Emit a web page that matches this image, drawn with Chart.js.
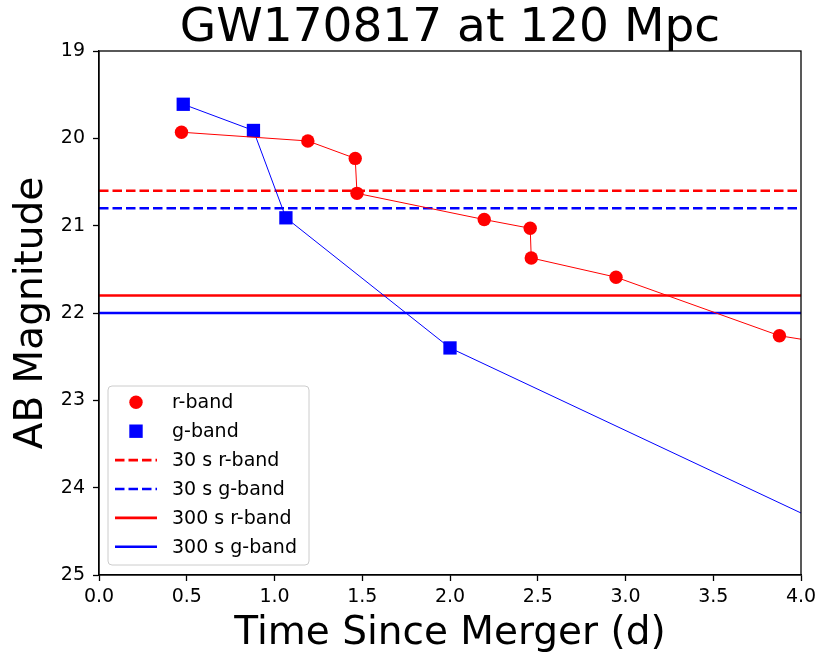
<!DOCTYPE html>
<html><head><meta charset="utf-8">
<script src="https://cdn.jsdelivr.net/npm/chart.js@4"></script>
<style>html,body{margin:0;padding:0;background:#fff;}#wrap{width:817px;height:655px;}</style>
</head><body><div id="wrap"><canvas id="c" width="817" height="655"></canvas></div>
<script>
const chartTitle = 'GW170817 at 120 Mpc';
const xAxisLabel = 'Time Since Merger (d)';
const yAxisLabel = 'AB Magnitude';

const rTime = [0.47, 1.19, 1.46, 1.47, 2.195, 2.457, 2.463, 2.946, 3.877, 4.0];
const rMag  = [19.93, 20.03, 20.23, 20.63, 20.93, 21.03, 21.37, 21.59, 22.26, 22.30];
const gTime = [0.48, 0.88, 1.065, 2.0, 4.0];
const gMag  = [19.61, 19.91, 20.91, 22.40, 24.29];

const limitLabels = ['30 s r-band', '30 s g-band', '300 s r-band', '300 s g-band'];
const limitMags   = [20.6, 20.8, 21.8, 22.0];
const limitSpan   = [0, 4];

const xTicks = [0, 0.5, 1.0, 1.5, 2.0, 2.5, 3.0, 3.5, 4.0];
const yTicks = [19, 20, 21, 22, 23, 24, 25];

const RED = '#ff0000', BLUE = '#0000ff';
const FONT = "'DejaVu Sans', sans-serif";

function pts(xs, ys) { return xs.map((x, i) => ({x: x, y: ys[i]})); }
function radii(n, r) { return Array.from({length: n}, (_, i) => i === n - 1 ? 0 : r); }

const datasets = [
  {label: 'r-band', data: pts(rTime, rMag), showLine: true, borderColor: RED, borderWidth: 1,
   backgroundColor: RED, pointStyle: 'circle', pointRadius: radii(rTime.length, 6.7), pointBorderWidth: 0,
   pointHoverRadius: 0, marker: true},
  {label: 'g-band', data: pts(gTime, gMag), showLine: true, borderColor: BLUE, borderWidth: 1,
   backgroundColor: BLUE, pointStyle: 'rect', pointRadius: radii(gTime.length, 9.4), pointBorderWidth: 0,
   pointHoverRadius: 0, marker: true}
];
const limitColors = [RED, BLUE, RED, BLUE];
const limitDash = [[9.5, 4], [9.5, 4], [], []];
limitLabels.forEach((lab, i) => {
  datasets.push({label: lab, data: limitSpan.map(x => ({x: x, y: limitMags[i]})), showLine: true,
    borderColor: limitColors[i], backgroundColor: limitColors[i], borderWidth: 2.6, borderDash: limitDash[i],
    pointRadius: 0, pointHoverRadius: 0, marker: false});
});

const decor = {
  id: 'decor',
  afterDraw(chart) {
    const ctx = chart.ctx, a = chart.chartArea;
    ctx.save();
    // frame
    ctx.strokeStyle = '#000'; ctx.lineWidth = 1.3; ctx.setLineDash([]);
    ctx.strokeRect(a.left, a.top, a.right - a.left, a.bottom - a.top);
    // title
    ctx.fillStyle = '#000';
    ctx.font = '47px ' + FONT;
    ctx.textAlign = 'center'; ctx.textBaseline = 'alphabetic';
    ctx.fillText(chartTitle, (a.left + a.right) / 2, 41);
    // legend
    const bx = a.left + 9, by = a.bottom - 189, bw = 201, bh = 179;
    ctx.beginPath();
    ctx.roundRect(bx, by, bw, bh, 4);
    ctx.fillStyle = 'rgba(255,255,255,0.8)'; ctx.fill();
    ctx.strokeStyle = '#cccccc'; ctx.lineWidth = 1; ctx.stroke();
    ctx.font = '19px ' + FONT; ctx.textAlign = 'left'; ctx.textBaseline = 'middle';
    chart.data.datasets.forEach((ds, i) => {
      const cy = by + 16.3 + i * 28.9;
      const hx = bx + 28;
      if (ds.marker) {
        ctx.fillStyle = ds.backgroundColor;
        ctx.beginPath();
        if (ds.pointStyle === 'circle') { ctx.arc(hx, cy, 6.7, 0, Math.PI * 2); }
        else { ctx.rect(hx - 6.7, cy - 6.7, 13.4, 13.4); }
        ctx.fill();
      } else {
        ctx.strokeStyle = ds.borderColor; ctx.lineWidth = ds.borderWidth;
        ctx.setLineDash(ds.borderDash); ctx.beginPath();
        ctx.moveTo(bx + 7, cy); ctx.lineTo(bx + 49, cy); ctx.stroke(); ctx.setLineDash([]);
      }
      ctx.fillStyle = '#000';
      ctx.fillText(ds.label, bx + 64, cy + 1);
    });
    ctx.restore();
  }
};

new Chart(document.getElementById('c'), {
  type: 'scatter',
  data: {datasets: datasets},
  options: {
    responsive: false, animation: false, devicePixelRatio: 1,
    layout: {padding: {top: 51, right: 16, bottom: 0, left: 0}},
    plugins: {legend: {display: false}, title: {display: false}, tooltip: {enabled: false}},
    scales: {
      x: {
        type: 'linear', min: 0, max: 4,
        afterBuildTicks: s => { s.ticks = xTicks.map(v => ({value: v})); },
        afterFit: s => { s.height = 80; s.paddingLeft = 0; s.paddingRight = 0; },
        ticks: {color: '#000', font: {family: FONT, size: 19}, padding: 5, maxRotation: 0,
                callback: v => Number(v).toFixed(1)},
        grid: {drawOnChartArea: false, drawTicks: true, tickLength: 6, tickColor: '#000', tickWidth: 1.3},
        border: {color: '#000', width: 1.3},
        title: {display: true, text: xAxisLabel, color: '#000', font: {family: FONT, size: 39, lineHeight: 1.1},
                padding: {top: 0, bottom: 0}}
      },
      y: {
        type: 'linear', min: 19, max: 25, reverse: true,
        afterBuildTicks: s => { s.ticks = yTicks.map(v => ({value: v})); },
        afterFit: s => { s.width = 99; s.paddingTop = 0; s.paddingBottom = 0; },
        ticks: {color: '#000', font: {family: FONT, size: 19}, padding: 8, callback: v => String(v)},
        grid: {drawOnChartArea: false, drawTicks: true, tickLength: 6, tickColor: '#000', tickWidth: 1.3},
        border: {color: '#000', width: 1.3},
        title: {display: true, text: yAxisLabel, color: '#000', font: {family: FONT, size: 39, lineHeight: 1.2},
                padding: {top: 8, bottom: 0}}
      }
    }
  },
  plugins: [decor]
});
</script></body></html>
